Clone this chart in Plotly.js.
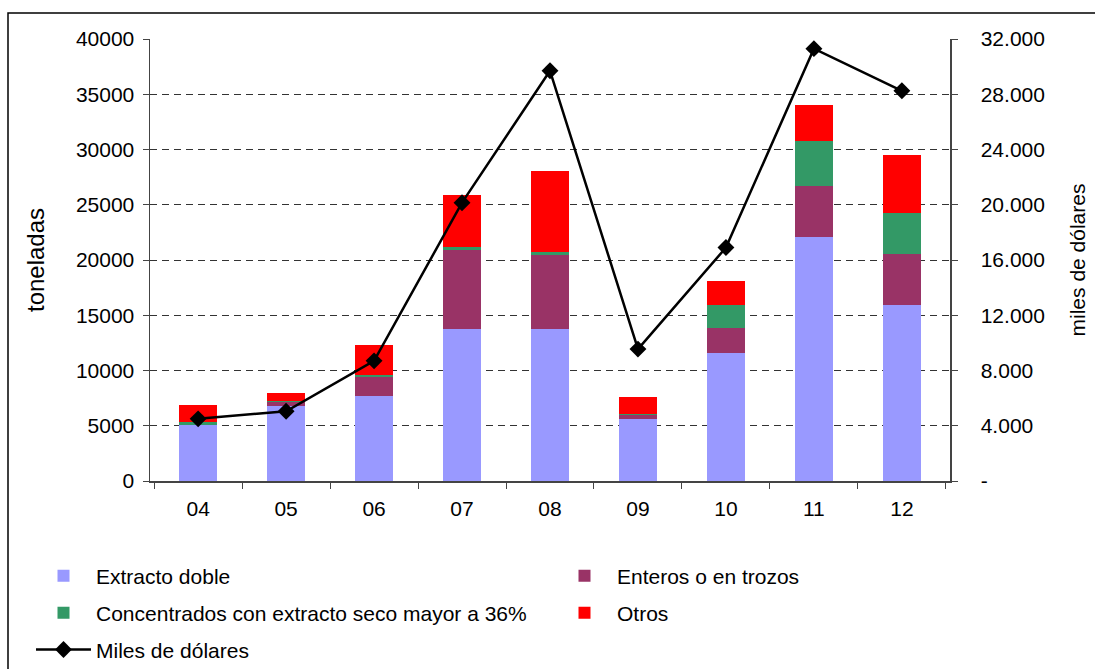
<!DOCTYPE html>
<html>
<head>
<meta charset="utf-8">
<script src="https://cdn.plot.ly/plotly-3.0.1.min.js"></script>
<style>html,body{margin:0;padding:0;background:#fff;}#chart{width:1095px;height:669px;}</style>
</head>
<body>
<div id="chart"></div>
<script>
const years = ["04", "05", "06", "07", "08", "09", "10", "11", "12"];
const extractoDoble = [5050, 6800, 7700, 13750, 13750, 5600, 11600, 22080, 15930];
const enteros = [0, 380, 1710, 7180, 6700, 370, 2280, 4640, 4640];
const concentrados = [300, 30, 140, 270, 300, 120, 2050, 4050, 3680];
const otros = [1520, 780, 2750, 4700, 7300, 1540, 2170, 3260, 5250];
const milesDolares = [4500, 5050, 8700, 20150, 29700, 9550, 16900, 31300, 28250];
const rightTickVals = [0, 4000, 8000, 12000, 16000, 20000, 24000, 28000, 32000];
const rightTickText = ["-", "4.000", "8.000", "12.000", "16.000", "20.000", "24.000", "28.000", "32.000"];

const FONT = "Liberation Sans, Arial, sans-serif";

const traces = [
  {type: "bar", name: "Extracto doble", x: years, y: extractoDoble, marker: {color: "#9999FF"},
   legend: "legend", legendgroup: "g1"},
  {type: "bar", name: "Enteros o en trozos", x: years, y: enteros, marker: {color: "#993366"},
   legend: "legend2", legendgroup: "g2"},
  {type: "bar", name: "Concentrados con extracto seco mayor a 36%", x: years, y: concentrados, marker: {color: "#339966"},
   legend: "legend", legendgroup: "g3"},
  {type: "bar", name: "Otros", x: years, y: otros, marker: {color: "#FF0000"},
   legend: "legend2", legendgroup: "g4"},
  {type: "scatter", mode: "lines+markers", name: "Miles de dólares", x: years, y: milesDolares, yaxis: "y2",
   line: {color: "#000000", width: 2.5}, marker: {symbol: "diamond", size: 13, color: "#000000"},
   legend: "legend", legendgroup: "g5"}
];

const legendCommon = {
  orientation: "v", yanchor: "top", xanchor: "left",
  traceorder: "grouped", tracegroupgap: 6.5, itemwidth: 55,
  font: {family: FONT, size: 21, color: "#000000"}, bgcolor: "rgba(0,0,0,0)", borderwidth: 0
};

const layout = {
  width: 1095, height: 669,
  margin: {l: 150, r: 145, t: 39, b: 188, autoexpand: false},
  paper_bgcolor: "#ffffff", plot_bgcolor: "#ffffff",
  font: {family: FONT, size: 21, color: "#000000"},
  barmode: "stack",
  bargap: 0.57,
  showlegend: true,
  legend: Object.assign({}, legendCommon, {x: -0.14875, y: -0.169}),
  legend2: Object.assign({}, legendCommon, {x: 0.5025, y: -0.169}),
  xaxis: {
    type: "category", tickson: "boundaries", ticks: "outside", ticklen: 6, tickcolor: "#444",
    showline: true, linecolor: "#444", linewidth: 1.5, showgrid: false, zeroline: false,
    tickfont: {family: FONT, size: 21}, ticklabelstandoff: 8
  },
  yaxis: {
    range: [0, 40000], dtick: 5000, tick0: 0, tickformat: "d",
    ticks: "outside", ticklen: 6, tickcolor: "#444",
    showline: true, linecolor: "#444", linewidth: 1.5,
    showgrid: true, gridcolor: "#333", gridwidth: 1, griddash: "7px,5px", zeroline: false,
    tickfont: {family: FONT, size: 21}, ticklabelstandoff: 4,
    title: {text: "toneladas", font: {family: FONT, size: 24}, standoff: 24}
  },
  yaxis2: {
    overlaying: "y", side: "right", range: [0, 32000],
    tickmode: "array", tickvals: rightTickVals, ticktext: rightTickText,
    ticks: "outside", ticklen: 6, tickcolor: "#444",
    showline: true, linecolor: "#444", linewidth: 1.5, showgrid: false, zeroline: false,
    tickfont: {family: FONT, size: 21}, ticklabelstandoff: 19,
    title: {text: "miles de dólares", font: {family: FONT, size: 21}, standoff: 26}
  },
  shapes: [
    {type: "rect", xref: "paper", yref: "paper", x0: -0.1775, x1: 1.19, y0: -0.45, y1: 1.0588,
     line: {color: "#000000", width: 1.5}, fillcolor: "rgba(0,0,0,0)", layer: "below"}
  ]
};

Plotly.newPlot("chart", traces, layout, {displayModeBar: false, staticPlot: true});
</script>
</body>
</html>
